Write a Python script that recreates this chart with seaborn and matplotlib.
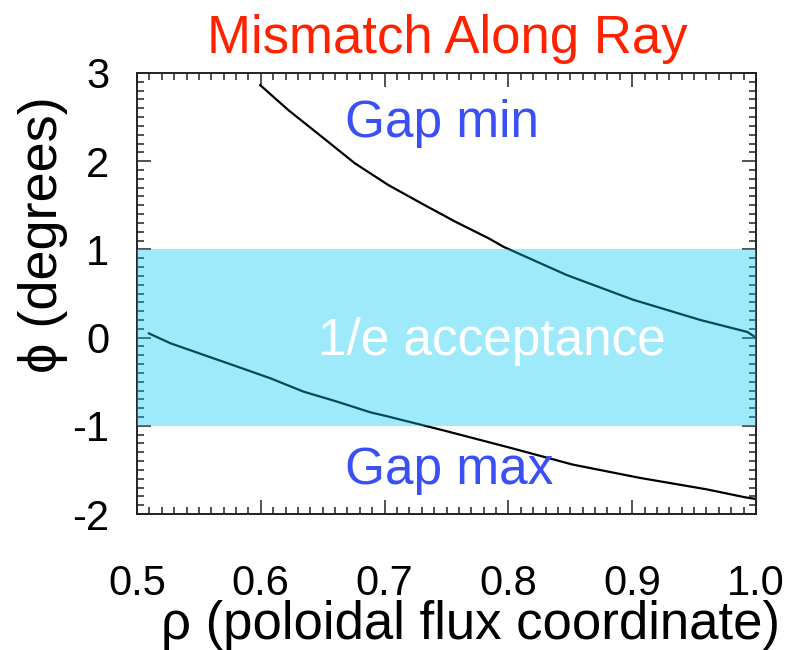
import matplotlib
matplotlib.use("Agg")
import matplotlib.pyplot as plt
from matplotlib.ticker import MultipleLocator
import numpy as np
import pandas as pd
import seaborn as sns

# curves: Gap min (upper) and Gap max (lower)
rho_min = [0.5994, 0.6222, 0.6492, 0.676, 0.703, 0.730, 0.757, 0.784, 0.796,
           0.847, 0.9006, 0.955, 0.993, 1.000]
phi_min = [2.864, 2.58, 2.278, 1.976, 1.73, 1.52, 1.315, 1.126, 1.03,
           0.71, 0.43, 0.20, 0.064, 0.00]
rho_max = [0.5094, 0.527, 0.554, 0.581, 0.6077, 0.6346, 0.6616, 0.6885, 0.700,
           0.747, 0.799, 0.852, 0.906, 0.960, 0.991, 1.000]
phi_max = [0.049, -0.064, -0.197, -0.329, -0.461, -0.613, -0.726, -0.847, -0.885,
           -1.05, -1.24, -1.44, -1.59, -1.72, -1.81, -1.83]

band_lo, band_hi = -1.0, 1.0
xticks = [0.5, 0.6, 0.7, 0.8, 0.9, 1.0]
xticklabels = ["0.5", "0.6", "0.7", "0.8", "0.9", "1.0"]
yticks = [-2, -1, 0, 1, 2, 3]

df = pd.concat([
    pd.DataFrame({"rho": rho_min, "phi": phi_min, "curve": "min"}),
    pd.DataFrame({"rho": rho_max, "phi": phi_max, "curve": "max"}),
])

sns.set_style("ticks")
plt.rcParams["font.family"] = ["Liberation Sans", "DejaVu Sans"]
plt.rcParams["text.color"] = "black"
plt.rcParams["axes.labelcolor"] = "black"
plt.rcParams["xtick.labelcolor"] = "black"
plt.rcParams["ytick.labelcolor"] = "black"

fig = plt.figure(figsize=(7.92, 6.5), dpi=100)
ax = fig.add_axes([137/792, 1-514/650, (756-137)/792, (514-73)/650])

sns.lineplot(data=df, x="rho", y="phi", units="curve", estimator=None,
             color="black", lw=1.6, ax=ax, sort=False)
ax.axhspan(band_lo, band_hi, color=(0, 200/255, 242/255), alpha=0.38, lw=0, zorder=3)

ax.set_xlim(0.5, 1.0)
ax.set_ylim(-2, 3)
ax.set_xticks(xticks)
ax.set_xticklabels(xticklabels)
ax.set_yticks(yticks)
ax.set_yticklabels([str(v) for v in yticks])
ax.xaxis.set_minor_locator(MultipleLocator(0.01))
ax.yaxis.set_minor_locator(MultipleLocator(0.1))
ax.tick_params(which="both", direction="in", top=True, right=True, color="#222222",
               width=1.1, labelcolor="black")
ax.tick_params(which="major", length=10)
ax.tick_params(which="minor", length=5)
ax.tick_params(axis="x", which="major", pad=36, labelsize=30)
ax.tick_params(axis="y", which="major", pad=20, labelsize=30)
for s in ax.spines.values():
    s.set_linewidth(1.4)
    s.set_color("#222222")

ax.set_xlabel("ρ (poloidal flux coordinate)", fontsize=38, color="black")
ax.xaxis.set_label_coords(0.538, -0.252)
ax.xaxis.label.set_va("center")
ax.set_ylabel("ϕ (degrees)", fontsize=39, color="black")
ax.yaxis.set_label_coords(-0.152, 0.633)
ax.yaxis.label.set_va("center")

ax.text(0.502, 1.045, "Mismatch Along Ray", transform=ax.transAxes, ha="center",
        va="baseline", color="#FF2200", fontsize=38)

ax.text(0.668, 2.27, "Gap min", color="#3A50F5", fontsize=37, va="baseline", zorder=5)
ax.text(0.668, -1.66, "Gap max", color="#3A50F5", fontsize=37, va="baseline", zorder=5)
ax.text(0.646, -0.197, "1/e acceptance", color="white", fontsize=37, va="baseline", zorder=5)

fig.savefig("out.png", dpi=100)
